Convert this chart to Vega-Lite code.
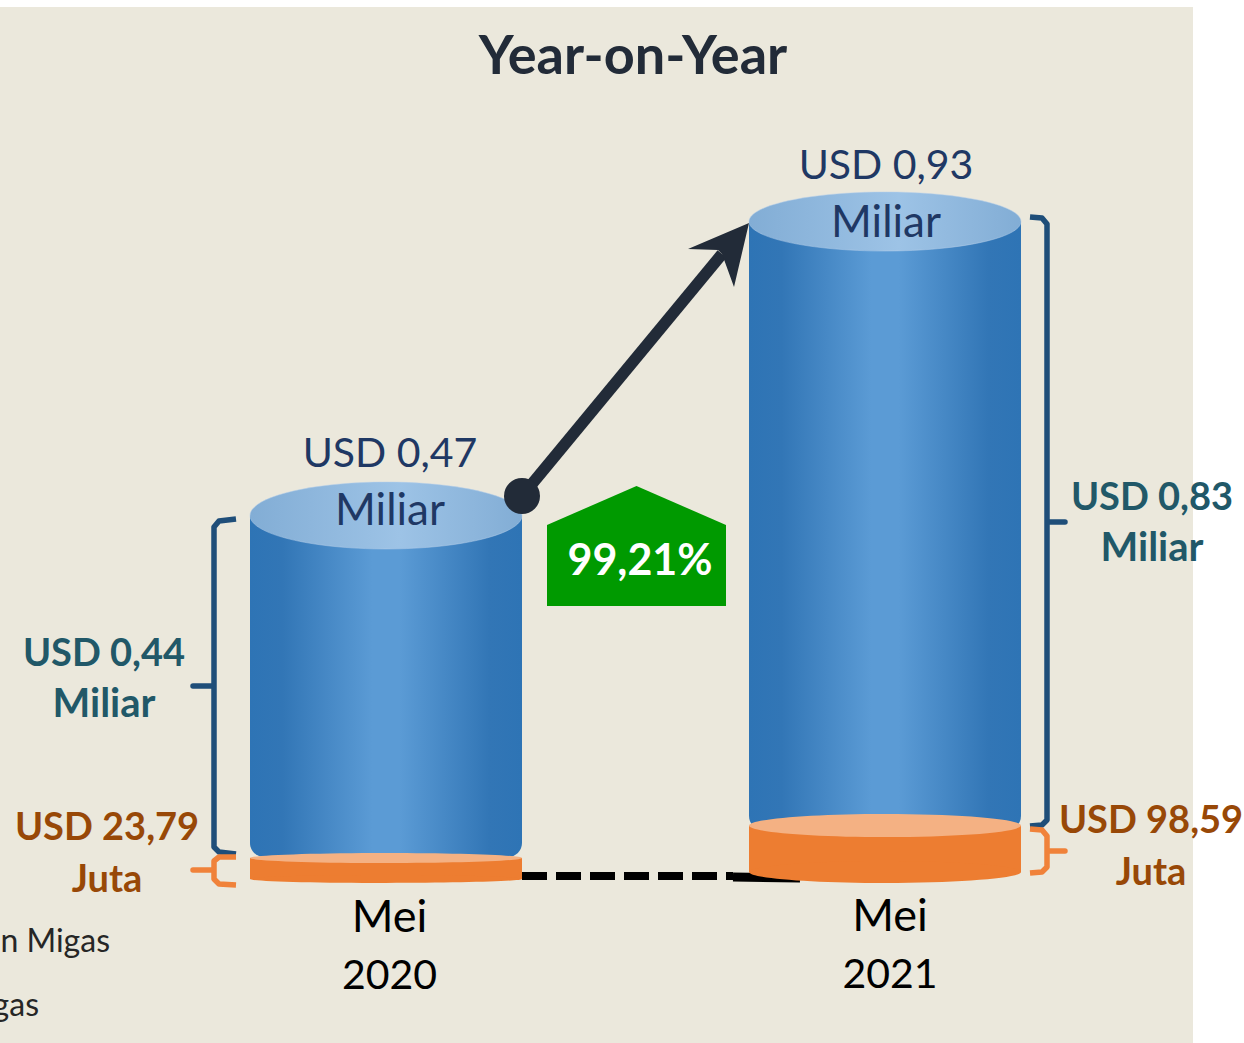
{
"$schema":"https://vega.github.io/schema/vega-lite/v6.json",
"width":1193,"height":1036,
"autosize":{"type":"none"},
"padding":{"left":0,"top":7,"right":51,"bottom":0},
"background":"#ffffff",
"view":{"fill":"#ebe8dc","stroke":null},
"config":{"text":{"font":"Lato"}},
"datasets":{
"bodies":[{"period":"Mei 2020","seg":"Migas","x":386,"x0":250,"x1":522,"h":367.5,"h0":26},{"period":"Mei 2021","seg":"Migas","x":885,"x0":749,"x1":1021,"h":661.5,"h0":53}],
"oranges":[{"period":"Mei 2020","seg":"Non Migas","x":386,"x0":250,"x1":522,"h":25,"h0":4},{"period":"Mei 2021","seg":"Non Migas","x":885,"x0":749,"x1":1021,"h":57.5,"h0":11}],
"brackets":[
{"g":"a","s":1,"x":236,"h":364},{"g":"a","s":2,"x":219,"h":362},{"g":"a","s":3,"x":214,"h":356},{"g":"a","s":4,"x":214,"h":197},{"g":"a","s":5,"x":193,"h":197},{"g":"a","s":6,"x":214,"h":197},{"g":"a","s":7,"x":214,"h":36},{"g":"a","s":8,"x":219,"h":31},{"g":"a","s":9,"x":236,"h":29},
{"g":"b","s":1,"x":1030,"h":666},{"g":"b","s":2,"x":1042,"h":665},{"g":"b","s":3,"x":1047,"h":659},{"g":"b","s":4,"x":1047,"h":361},{"g":"b","s":5,"x":1065,"h":361},{"g":"b","s":6,"x":1047,"h":361},{"g":"b","s":7,"x":1047,"h":63},{"g":"b","s":8,"x":1042,"h":58},{"g":"b","s":9,"x":1030,"h":57}],
"obrackets":[
{"g":"c","s":1,"x":236,"h":26},{"g":"c","s":2,"x":219,"h":26},{"g":"c","s":3,"x":214,"h":22},{"g":"c","s":4,"x":214,"h":13},{"g":"c","s":5,"x":193,"h":13},{"g":"c","s":6,"x":214,"h":13},{"g":"c","s":7,"x":214,"h":4},{"g":"c","s":8,"x":219,"h":-1},{"g":"c","s":9,"x":236,"h":-2},
{"g":"d","s":1,"x":1030,"h":54},{"g":"d","s":2,"x":1042,"h":53},{"g":"d","s":3,"x":1047,"h":47},{"g":"d","s":4,"x":1047,"h":32},{"g":"d","s":5,"x":1065,"h":32},{"g":"d","s":6,"x":1047,"h":32},{"g":"d","s":7,"x":1047,"h":16},{"g":"d","s":8,"x":1042,"h":11},{"g":"d","s":9,"x":1030,"h":10}],
"title":[{"x":633,"h":809,"label":"Year-on-Year"}],
"totals":[{"x":390,"h":416,"label":"USD 0,47"},{"x":390,"h":358,"label":"Miliar"},{"x":886,"h":704,"label":"USD 0,93"},{"x":886,"h":646,"label":"Miliar"}],
"teal":[{"x":104,"h":217,"label":"USD 0,44"},{"x":104,"h":166,"label":"Miliar"},{"x":1152,"h":373,"label":"USD 0,83"},{"x":1152,"h":322,"label":"Miliar"}],
"brown":[{"x":107,"h":43,"label":"USD 23,79"},{"x":107,"h":-9,"label":"Juta"},{"x":1151,"h":50,"label":"USD 98,59"},{"x":1151,"h":-2,"label":"Juta"}],
"periods":[{"x":389.5,"h":-49,"label":"Mei"},{"x":389.5,"h":-106,"label":"2020"},{"x":890,"h":-48,"label":"Mei"},{"x":890,"h":-105,"label":"2021"}],
"legend":[{"x":110,"h":-69,"label":"n Migas"},{"x":39,"h":-133,"label":"gas"}]
},
"encoding":{
"x":{"field":"x","type":"quantitative","scale":{"domain":[0,1193],"nice":false,"zero":false},"axis":null},
"y":{"field":"h","type":"quantitative","scale":{"domain":[-160,876],"nice":false,"zero":false},"axis":null}
},
"layer":[
{"data":{"values":[{"x":522,"h":7},{"x":733,"h":7}]},"mark":{"type":"line","stroke":"#000000","strokeWidth":8,"strokeDash":[25,9]}},
{"data":{"values":[{"x":733,"h":6},{"x":800,"h":5}]},"mark":{"type":"line","stroke":"#000000","strokeWidth":9}},
{"data":{"name":"bodies"},"mark":{"type":"rect","cornerRadiusBottomLeft":14,"cornerRadiusBottomRight":14,"fill":{"gradient":"linear","x1":0,"x2":1,"y1":0,"y2":0,"stops":[{"offset":0,"color":"#2e74b5"},{"offset":0.12,"color":"#3276b6"},{"offset":0.45,"color":"#5b9bd5"},{"offset":0.55,"color":"#5b9bd5"},{"offset":0.88,"color":"#3276b6"},{"offset":1,"color":"#2e74b5"}]}},"encoding":{"x":{"field":"x0","type":"quantitative"},"x2":{"field":"x1"},"y":{"field":"h0","type":"quantitative"},"y2":{"field":"h"}}},
{"data":{"name":"bodies"},"transform":[{"filter":"datum.period=='Mei 2020'"}],"mark":{"type":"point","filled":true,"opacity":1,"size":73984,"stroke":"#b7cfe8","strokeWidth":0.5,"shape":"M-1,0C-1,-0.136,-0.552,-0.246,0,-0.246C0.552,-0.246,1,-0.136,1,0C1,0.136,0.552,0.246,0,0.246C-0.552,0.246,-1,0.136,-1,0Z","fill":{"gradient":"linear","x1":0,"x2":1,"y1":0,"y2":0,"stops":[{"offset":0,"color":"#82add5"},{"offset":0.55,"color":"#9dc3e6"},{"offset":1,"color":"#82add5"}]}}},
{"data":{"name":"bodies"},"transform":[{"filter":"datum.period=='Mei 2021'"}],"mark":{"type":"point","filled":true,"opacity":1,"size":73984,"stroke":"#b7cfe8","strokeWidth":0.5,"shape":"M-1,0C-1,-0.12,-0.552,-0.217,0,-0.217C0.552,-0.217,1,-0.12,1,0C1,0.12,0.552,0.217,0,0.217C-0.552,0.217,-1,0.12,-1,0Z","fill":{"gradient":"linear","x1":0,"x2":1,"y1":0,"y2":0,"stops":[{"offset":0,"color":"#82add5"},{"offset":0.55,"color":"#9dc3e6"},{"offset":1,"color":"#82add5"}]}}},
{"data":{"name":"oranges"},"mark":{"type":"rect","fill":"#ed7d31"},"encoding":{"x":{"field":"x0","type":"quantitative"},"x2":{"field":"x1"},"y":{"field":"h0","type":"quantitative"},"y2":{"field":"h"}}},
{"data":{"name":"oranges"},"transform":[{"filter":"datum.period=='Mei 2020'"}],"mark":{"type":"point","filled":true,"opacity":1,"size":73984,"fill":"#ed7d31","shape":"M-1,0C-1,-0.016,-0.552,-0.029,0,-0.029C0.552,-0.029,1,-0.016,1,0C1,0.016,0.552,0.029,0,0.029C-0.552,0.029,-1,0.016,-1,0Z"},"encoding":{"y":{"field":"h0","type":"quantitative"}}},
{"data":{"name":"oranges"},"transform":[{"filter":"datum.period=='Mei 2021'"}],"mark":{"type":"point","filled":true,"opacity":1,"size":73984,"fill":"#ed7d31","shape":"M-1,0C-1,-0.045,-0.552,-0.081,0,-0.081C0.552,-0.081,1,-0.045,1,0C1,0.045,0.552,0.081,0,0.081C-0.552,0.081,-1,0.045,-1,0Z"},"encoding":{"y":{"field":"h0","type":"quantitative"}}},
{"data":{"name":"oranges"},"transform":[{"filter":"datum.period=='Mei 2020'"}],"mark":{"type":"point","filled":true,"opacity":1,"size":73984,"fill":"#f4b183","shape":"M-1,0C-1,-0.02,-0.552,-0.037,0,-0.037C0.552,-0.037,1,-0.02,1,0C1,0.02,0.552,0.037,0,0.037C-0.552,0.037,-1,0.02,-1,0Z"}},
{"data":{"name":"oranges"},"transform":[{"filter":"datum.period=='Mei 2021'"}],"mark":{"type":"point","filled":true,"opacity":1,"size":73984,"fill":"#f4b183","shape":"M-1,0C-1,-0.047,-0.552,-0.085,0,-0.085C0.552,-0.085,1,-0.047,1,0C1,0.047,0.552,0.085,0,0.085C-0.552,0.085,-1,0.047,-1,0Z"}},
{"data":{"name":"brackets"},"mark":{"type":"line","stroke":"#1f4e79","strokeWidth":5.5,"strokeJoin":"round"},"encoding":{"detail":{"field":"g"},"order":{"field":"s","type":"quantitative"}}},
{"data":{"name":"obrackets"},"mark":{"type":"line","stroke":"#f0823a","strokeWidth":5.5,"strokeJoin":"round"},"encoding":{"detail":{"field":"g"},"order":{"field":"s","type":"quantitative"}}},
{"data":{"values":[{"x":522,"h":387},{"x":722,"h":629}]},"mark":{"type":"line","stroke":"#222b38","strokeWidth":11.5}},
{"data":{"values":[{"x":749,"h":660}]},"mark":{"type":"point","filled":true,"opacity":1,"size":40000,"fill":"#222b38","shape":"M0,0L-0.61,0.26L-0.31,0.27L-0.27,0.31L-0.15,0.64Z"}},
{"data":{"values":[{"x":522,"h":387}]},"mark":{"type":"point","filled":true,"opacity":1,"size":1296,"fill":"#222b38","shape":"circle"}},
{"data":{"values":[{"x":636.5,"h":337,"label":"99,21%"}]},"mark":{"type":"point","filled":true,"opacity":1,"size":32041,"fill":"#009a00","shape":"M0,-0.67L1,-0.235L1,0.67L-1,0.67L-1,-0.235Z"}},
{"data":{"values":[{"x":640,"h":308,"label":"99,21%"}]},"mark":{"type":"text","font":"Lato","fontWeight":"bold","fontSize":43,"fill":"#ffffff","align":"center","baseline":"alphabetic"},"encoding":{"text":{"field":"label"}}},
{"data":{"name":"title"},"mark":{"type":"text","font":"Lato","fontWeight":"bold","fontSize":54,"fill":"#222b38","align":"center","baseline":"alphabetic"},"encoding":{"text":{"field":"label"}}},
{"data":{"name":"totals"},"transform":[{"filter":"datum.label!='Miliar'"}],"mark":{"type":"text","font":"Lato","fontSize":41,"fill":"#1f3864","align":"center","baseline":"alphabetic"},"encoding":{"text":{"field":"label"}}},
{"data":{"name":"totals"},"transform":[{"filter":"datum.label=='Miliar'"}],"mark":{"type":"text","font":"Lato","fontSize":44,"fill":"#1f3864","align":"center","baseline":"alphabetic"},"encoding":{"text":{"field":"label"}}},
{"data":{"name":"teal"},"transform":[{"filter":"datum.label!='Miliar'"}],"mark":{"type":"text","font":"Lato","fontWeight":"bold","fontSize":38,"fill":"#215868","align":"center","baseline":"alphabetic"},"encoding":{"text":{"field":"label"}}},
{"data":{"name":"teal"},"transform":[{"filter":"datum.label=='Miliar'"}],"mark":{"type":"text","font":"Lato","fontWeight":"bold","fontSize":40,"fill":"#215868","align":"center","baseline":"alphabetic"},"encoding":{"text":{"field":"label"}}},
{"data":{"name":"brown"},"mark":{"type":"text","font":"Lato","fontWeight":"bold","fontSize":38,"fill":"#984807","align":"center","baseline":"alphabetic"},"encoding":{"text":{"field":"label"}}},
{"data":{"name":"periods"},"transform":[{"filter":"datum.label=='Mei'"}],"mark":{"type":"text","font":"Lato","fontSize":45,"fill":"#000000","align":"center","baseline":"alphabetic"},"encoding":{"text":{"field":"label"}}},
{"data":{"name":"periods"},"transform":[{"filter":"datum.label!='Mei'"}],"mark":{"type":"text","font":"Lato","fontSize":41,"fill":"#000000","align":"center","baseline":"alphabetic"},"encoding":{"text":{"field":"label"}}},
{"data":{"name":"legend"},"mark":{"type":"text","font":"Lato","fontSize":32,"fill":"#262626","align":"right","baseline":"alphabetic"},"encoding":{"text":{"field":"label"}}}
]
}
